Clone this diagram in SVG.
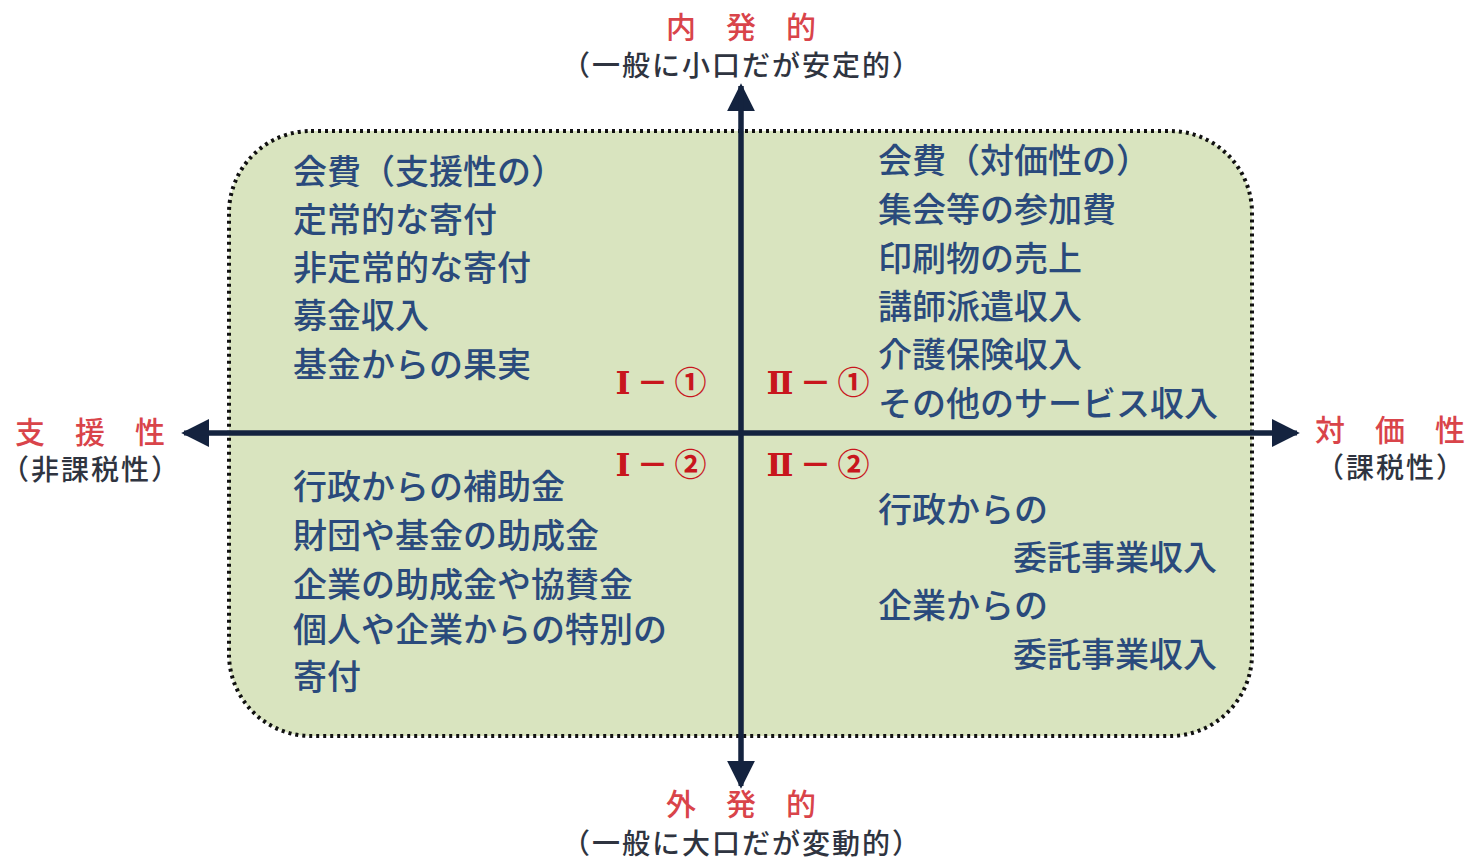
<svg xmlns="http://www.w3.org/2000/svg" width="1471" height="862" viewBox="0 0 1471 862">
<defs>
<style>
.t{font-family:"Noto Sans CJK JP","Noto Sans CJK SC",sans-serif;font-size:34px;font-weight:500;fill:#2a4a7c}
.ax{font-family:"Noto Sans CJK JP",sans-serif;font-size:30px;font-weight:500;fill:#d9444a;text-anchor:middle}
.sub{font-family:"Noto Sans CJK JP",sans-serif;font-size:28px;font-weight:500;fill:#2f3440;text-anchor:middle;letter-spacing:2px}
.q{font-family:"Noto Sans CJK JP",sans-serif;font-size:32px;font-weight:bold;fill:#c8161d;text-anchor:middle;letter-spacing:6px}
.rn{font-family:"DejaVu Serif","Noto Sans CJK JP",serif}
.axis{stroke:#14233f;stroke-width:5;fill:none}
</style>
<marker id="ah" viewBox="0 0 10 10" refX="9" refY="5" markerWidth="5.6" markerHeight="5.6" markerUnits="strokeWidth" orient="auto">
<path d="M0,0 L10,5 L0,10 z" fill="#14233f"/>
</marker>
</defs>
<rect width="1471" height="862" fill="#ffffff"/>
<g id="frame">
<rect x="229" y="131" width="1023" height="605" rx="82" ry="82" fill="#d9e4bf" stroke="#111" stroke-width="4" stroke-dasharray="3 4"/>
</g>
<g id="connectors">
<line class="axis" x1="741" y1="770" x2="741" y2="86" marker-end="url(#ah)"/>
<line class="axis" x1="741" y1="86" x2="741" y2="786" marker-end="url(#ah)"/>
<line class="axis" x1="1280" y1="433" x2="184" y2="433" marker-end="url(#ah)"/>
<line class="axis" x1="200" y1="433" x2="1297" y2="433" marker-end="url(#ah)"/>
</g>
<g id="axis-top">
<text class="ax" x="741" y="38">内　発　的</text>
<text class="sub" x="742" y="76">（一般に小口だが安定的）</text>
</g>
<g id="axis-bottom">
<text class="ax" x="741" y="815">外　発　的</text>
<text class="sub" x="742" y="854">（一般に大口だが変動的）</text>
</g>
<g id="axis-left">
<text class="ax" x="90" y="443">支　援　性</text>
<text class="sub" x="91" y="480">（非課税性）</text>
</g>
<g id="axis-right">
<text class="ax" x="1390" y="441">対　価　性</text>
<text class="sub" x="1391" y="478">（課税性）</text>
</g>
<g id="q1-1">
<text class="q" x="664" y="394"><tspan class="rn">Ⅰ</tspan>－①</text>
<text class="t" x="293" y="184">会費（支援性の）</text>
<text class="t" x="293" y="232">定常的な寄付</text>
<text class="t" x="293" y="280">非定常的な寄付</text>
<text class="t" x="293" y="328">募金収入</text>
<text class="t" x="293" y="377">基金からの果実</text>
</g>
<g id="q2-1">
<text class="q" x="821" y="394"><tspan class="rn">Ⅱ</tspan>－①</text>
<text class="t" x="878" y="173">会費（対価性の）</text>
<text class="t" x="878" y="222">集会等の参加費</text>
<text class="t" x="878" y="271">印刷物の売上</text>
<text class="t" x="878" y="319">講師派遣収入</text>
<text class="t" x="878" y="367">介護保険収入</text>
<text class="t" x="878" y="416">その他のサービス収入</text>
</g>
<g id="q1-2">
<text class="q" x="664" y="476"><tspan class="rn">Ⅰ</tspan>－②</text>
<text class="t" x="293" y="499">行政からの補助金</text>
<text class="t" x="293" y="548">財団や基金の助成金</text>
<text class="t" x="293" y="597">企業の助成金や協賛金</text>
<text class="t" x="293" y="642">個人や企業からの特別の</text>
<text class="t" x="293" y="689">寄付</text>
</g>
<g id="q2-2">
<text class="q" x="821" y="476"><tspan class="rn">Ⅱ</tspan>－②</text>
<text class="t" x="878" y="522">行政からの</text>
<text class="t" x="1013" y="570">委託事業収入</text>
<text class="t" x="878" y="618">企業からの</text>
<text class="t" x="1013" y="667">委託事業収入</text>
</g>
</svg>
